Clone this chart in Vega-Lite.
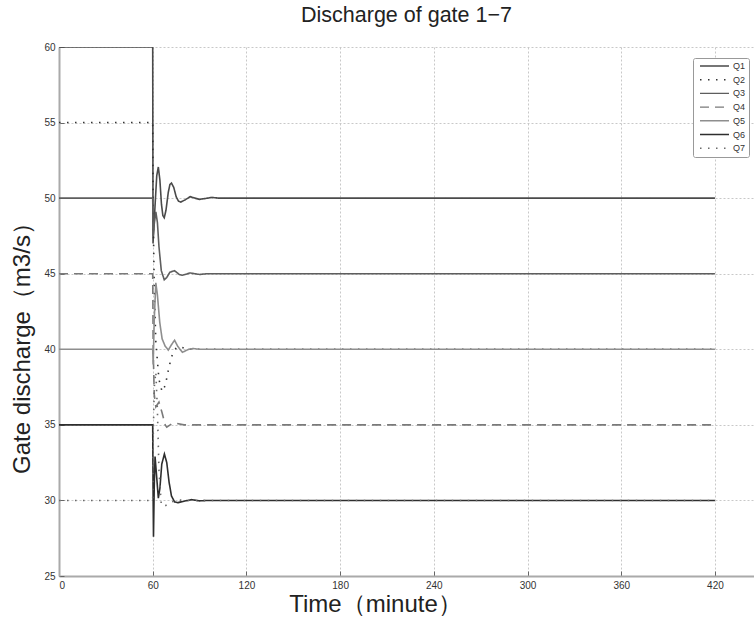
{
  "$schema": "https://vega.github.io/schema/vega-lite/v6.json",
  "width": 695,
  "height": 529,
  "autosize": {"type": "none"},
  "padding": {"left": 59, "top": 47, "right": 0, "bottom": 45},
  "background": "white",
  "title": {"text": "Discharge of gate 1−7", "font": "Liberation Sans", "fontSize": 21.5, "fontWeight": "normal", "color": "#222", "offset": 16, "anchor": "middle", "letterSpacing": 0.8},
  "data": {"values": [
    {"s":"Q1","t":0,"q":60},{"s":"Q1","t":60,"q":60},{"s":"Q1","t":60.2,"q":47},{"s":"Q1","t":61.5,"q":49.5},{"s":"Q1","t":62.6,"q":51.5},{"s":"Q1","t":63.6,"q":52.06},{"s":"Q1","t":64.6,"q":51.2},{"s":"Q1","t":65.6,"q":49.6},{"s":"Q1","t":66.5,"q":48.85},{"s":"Q1","t":67.4,"q":48.7},{"s":"Q1","t":68.5,"q":49.2},{"s":"Q1","t":70,"q":50.4},{"s":"Q1","t":71,"q":50.9},{"s":"Q1","t":72,"q":51.0},{"s":"Q1","t":73.5,"q":50.7},{"s":"Q1","t":75,"q":50.1},{"s":"Q1","t":76.5,"q":49.8},{"s":"Q1","t":78,"q":49.74},{"s":"Q1","t":81,"q":49.9},{"s":"Q1","t":84,"q":50.1},{"s":"Q1","t":87,"q":50.0},{"s":"Q1","t":90,"q":49.92},{"s":"Q1","t":94,"q":49.98},{"s":"Q1","t":98,"q":50.05},{"s":"Q1","t":102,"q":50},{"s":"Q1","t":420,"q":50},
    {"s":"Q2","t":0,"q":55},{"s":"Q2","t":60,"q":55},{"s":"Q2","t":60.3,"q":49},{"s":"Q2","t":61,"q":44},{"s":"Q2","t":62,"q":40.5},{"s":"Q2","t":64,"q":38},{"s":"Q2","t":66,"q":37.2},{"s":"Q2","t":68,"q":37.6},{"s":"Q2","t":70,"q":38.6},{"s":"Q2","t":72,"q":39.5},{"s":"Q2","t":75,"q":40.1},{"s":"Q2","t":78,"q":40.15},{"s":"Q2","t":82,"q":40},{"s":"Q2","t":420,"q":40},
    {"s":"Q3","t":0,"q":50},{"s":"Q3","t":60,"q":50},{"s":"Q3","t":60.3,"q":47.5},{"s":"Q3","t":61,"q":48.3},{"s":"Q3","t":62,"q":49.1},{"s":"Q3","t":63,"q":48.4},{"s":"Q3","t":64,"q":46.8},{"s":"Q3","t":65.5,"q":45.2},{"s":"Q3","t":67.4,"q":44.6},{"s":"Q3","t":69,"q":44.75},{"s":"Q3","t":71,"q":45.1},{"s":"Q3","t":74,"q":45.2},{"s":"Q3","t":77,"q":44.95},{"s":"Q3","t":79,"q":44.9},{"s":"Q3","t":84,"q":45.05},{"s":"Q3","t":90,"q":44.95},{"s":"Q3","t":95,"q":45},{"s":"Q3","t":420,"q":45},
    {"s":"Q4","t":0,"q":45},{"s":"Q4","t":60,"q":45},{"s":"Q4","t":60.3,"q":40},{"s":"Q4","t":61,"q":37},{"s":"Q4","t":62,"q":36.2},{"s":"Q4","t":64,"q":36.5},{"s":"Q4","t":66,"q":35.8},{"s":"Q4","t":68,"q":35.0},{"s":"Q4","t":69,"q":34.85},{"s":"Q4","t":72,"q":35.05},{"s":"Q4","t":75,"q":35.1},{"s":"Q4","t":80,"q":35},{"s":"Q4","t":420,"q":35},
    {"s":"Q5","t":0,"q":40},{"s":"Q5","t":60,"q":40},{"s":"Q5","t":60.3,"q":39},{"s":"Q5","t":61,"q":42},{"s":"Q5","t":62,"q":44.4},{"s":"Q5","t":63,"q":43.6},{"s":"Q5","t":64.5,"q":41.8},{"s":"Q5","t":66,"q":40.7},{"s":"Q5","t":68,"q":40.2},{"s":"Q5","t":70,"q":39.95},{"s":"Q5","t":72,"q":40.3},{"s":"Q5","t":74,"q":40.6},{"s":"Q5","t":76,"q":40.2},{"s":"Q5","t":79,"q":39.8},{"s":"Q5","t":83,"q":40.0},{"s":"Q5","t":86,"q":40.05},{"s":"Q5","t":90,"q":40},{"s":"Q5","t":420,"q":40},
    {"s":"Q6","t":0,"q":35},{"s":"Q6","t":60,"q":35},{"s":"Q6","t":60.2,"q":31},{"s":"Q6","t":60.5,"q":27.6},{"s":"Q6","t":61,"q":31},{"s":"Q6","t":61.5,"q":32.9},{"s":"Q6","t":62.5,"q":31.6},{"s":"Q6","t":63.6,"q":30.15},{"s":"Q6","t":64.6,"q":30.8},{"s":"Q6","t":65.8,"q":32.4},{"s":"Q6","t":67.5,"q":33.07},{"s":"Q6","t":69,"q":32.5},{"s":"Q6","t":70.5,"q":31.2},{"s":"Q6","t":72,"q":30.3},{"s":"Q6","t":74,"q":29.9},{"s":"Q6","t":76,"q":29.85},{"s":"Q6","t":80,"q":29.95},{"s":"Q6","t":85,"q":30.05},{"s":"Q6","t":90,"q":29.97},{"s":"Q6","t":95,"q":30},{"s":"Q6","t":420,"q":30},
    {"s":"Q7","t":0,"q":30},{"s":"Q7","t":60,"q":30},{"s":"Q7","t":60.3,"q":34},{"s":"Q7","t":61,"q":37.5},{"s":"Q7","t":62,"q":38.5},{"s":"Q7","t":63,"q":36},{"s":"Q7","t":64,"q":32},{"s":"Q7","t":65.5,"q":29.7},{"s":"Q7","t":67,"q":29.6},{"s":"Q7","t":69,"q":29.7},{"s":"Q7","t":72,"q":29.9},{"s":"Q7","t":76,"q":30.05},{"s":"Q7","t":80,"q":30},{"s":"Q7","t":420,"q":30}
  ]},
  "mark": {"type": "line", "strokeWidth": 1.6, "clip": true},
  "encoding": {
    "x": {"field": "t", "type": "quantitative", "scale": {"domain": [0, 445], "nice": false, "zero": false},
      "axis": {"values": [0,60,120,180,240,300,360,420], "title": "Time（minute）", "titleFont": "Liberation Sans", "titleFontSize": 24, "titleFontWeight": "normal", "titleColor": "#222", "titlePadding": 2, "titleX": 316,
        "labelFont": "Liberation Sans", "labelFontSize": 10, "labelColor": "#333", "tickSize": -5, "tickColor": "#666", "labelPadding": 9,
        "domainColor": "#aaa", "domainWidth": 2, "gridColor": "#c8c8c8", "gridDash": [2, 2], "gridWidth": 1}},
    "y": {"field": "q", "type": "quantitative", "scale": {"domain": [25, 60], "nice": false, "zero": false},
      "axis": {"values": [25,30,35,40,45,50,55,60], "title": "Gate discharge（m3/s）", "titleFont": "Liberation Sans", "titleFontSize": 24, "titleFontWeight": "normal", "titleColor": "#222", "titlePadding": 9, "titleY": 295,
        "labelFont": "Liberation Sans", "labelFontSize": 10, "labelColor": "#333", "tickSize": -5, "tickColor": "#666", "labelPadding": 9,
        "domainColor": "#aaa", "domainWidth": 2, "gridColor": "#c8c8c8", "gridDash": [2, 2], "gridWidth": 1}},
    "color": {"field": "s", "type": "nominal", "scale": {"domain": ["Q1","Q2","Q3","Q4","Q5","Q6","Q7"], "range": ["#4a4a4a","#333333","#5e5e5e","#7a7a7a","#8e8e8e","#2e2e2e","#6a6a6a"]},
      "legend": {"orient": "none", "legendX": 634, "legendY": 11, "title": null, "padding": 3, "strokeColor": "#999", "fillColor": "white", "cornerRadius": 2,
        "symbolType": "M-0.25,0H7", "symbolSize": 64, "symbolStrokeWidth": 1.4, "labelOffset": 27, "labelFont": "Liberation Sans", "labelFontSize": 9, "labelColor": "#333", "rowPadding": 3.7}},
    "strokeDash": {"field": "s", "type": "nominal", "scale": {"domain": ["Q1","Q2","Q3","Q4","Q5","Q6","Q7"], "range": [[1,0],[1.5,6.5],[1,0],[9,6],[1,0],[1,0],[1.5,6.5]]},
      "legend": {"orient": "none", "legendX": 634, "legendY": 11, "title": null}}
  },
  "config": {"view": {"stroke": null}}
}
